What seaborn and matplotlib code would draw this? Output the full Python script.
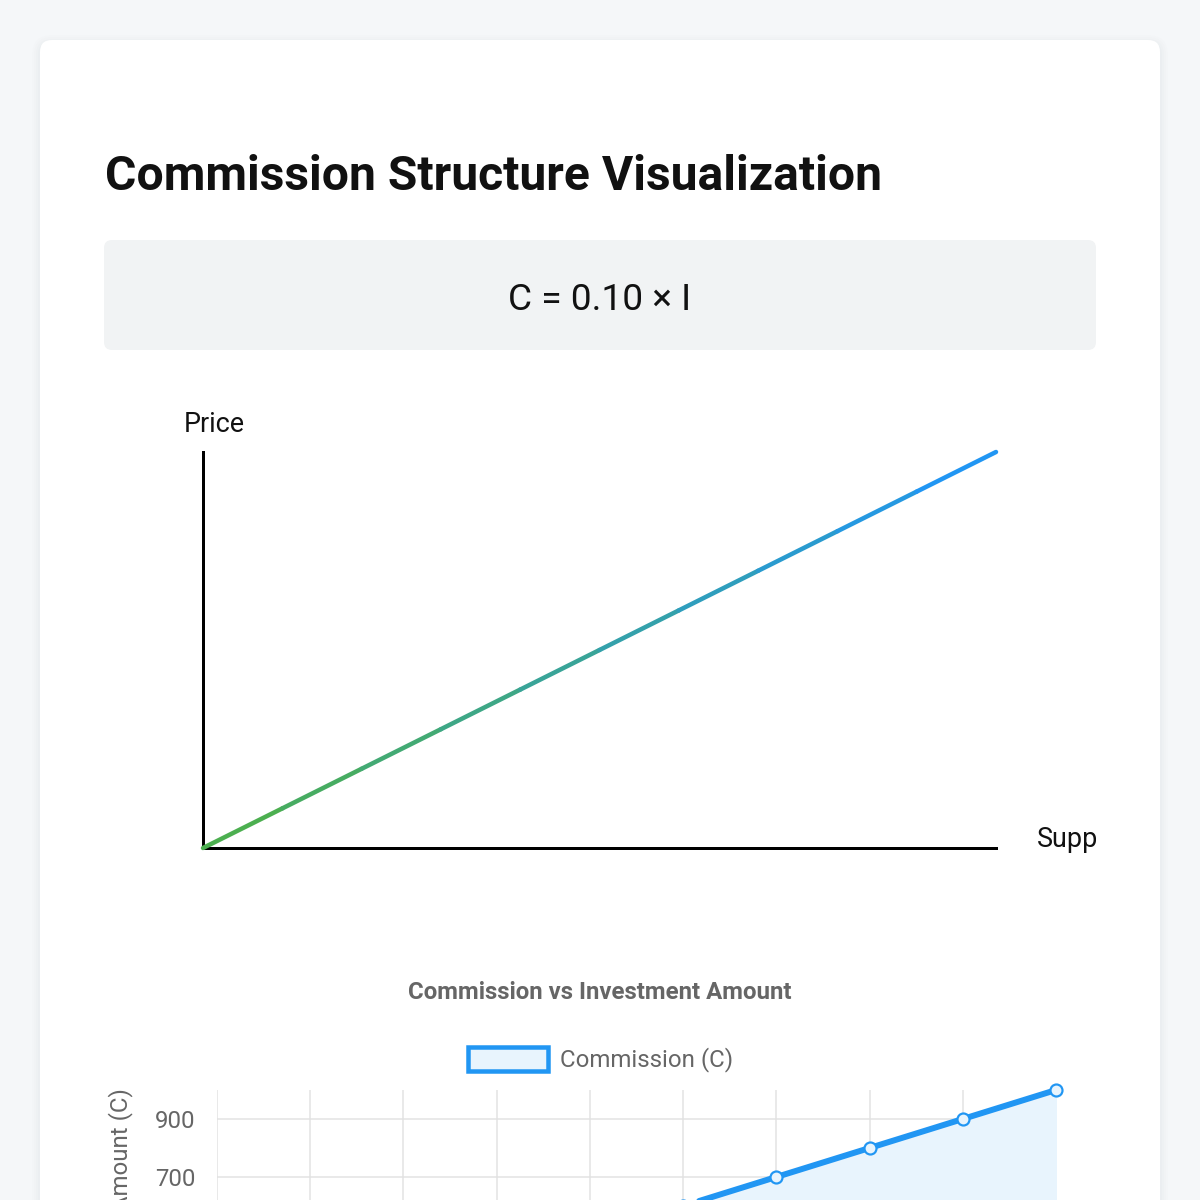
import matplotlib.pyplot as plt
import numpy as np
import pandas as pd
import seaborn as sns
from matplotlib.collections import LineCollection
from matplotlib.colors import LinearSegmentedColormap
from matplotlib.patches import FancyBboxPatch, Rectangle

# commission data: C = 0.10 x I
investment = [1000, 2000, 3000, 4000, 5000, 6000, 7000, 8000, 9000, 10000]
commission = [100, 200, 300, 400, 500, 600, 700, 800, 900, 1000]
y_ticks = [100, 300, 500, 700, 900]

title = "Commission Structure Visualization"
formula = "C = 0.10 \u00d7 I"
chart_title = "Commission vs Investment Amount"
series_name = "Commission (C)"

BLUE = "#2196f3"
GREEN = "#4caf50"
FILL = "#e8f4fd"
GREY_TXT = "#666666"
PX = 0.72  # points per pixel at dpi 100

sns.set_theme(style="white")
plt.rcParams["font.family"] = ["Roboto", "DejaVu Sans"]

fig = plt.figure(figsize=(12, 12), dpi=100)
fig.patch.set_facecolor("#f5f7f9")

# background layer in pixel coordinates (origin top-left)
bg = fig.add_axes([0, 0, 1, 1])
bg.set_xlim(0, 1200)
bg.set_ylim(1200, 0)
bg.axis("off")
bg.set_zorder(-1)

# card shadow + card
for i, a in enumerate([0.012, 0.015, 0.02, 0.025]):
    grow = 8 - i * 2
    bg.add_patch(FancyBboxPatch((40 - grow, 40 - grow + 3), 1120 + 2 * grow, 1300,
                                boxstyle="round,pad=0,rounding_size=%d" % (12 + grow),
                                fc="#8090a0", ec="none", alpha=a))
bg.add_patch(FancyBboxPatch((40, 40), 1120, 1300, boxstyle="round,pad=0,rounding_size=12",
                            fc="white", ec="none"))

bg.text(105, 190, title, fontsize=48 * PX, fontweight="bold", color="#111111",
        ha="left", va="baseline")

# formula box
bg.add_patch(FancyBboxPatch((104, 240), 992, 110, boxstyle="round,pad=0,rounding_size=8",
                            fc="#f1f3f4", ec="none"))
bg.text(600, 310, formula, fontsize=37 * PX, color="#111111", ha="center", va="baseline")

# diagram labels
bg.text(184, 432, "Price", fontsize=27 * PX, color="#111111", ha="left", va="baseline")
supply = bg.text(1037, 847, "Supply", fontsize=27 * PX, color="#111111",
                 ha="left", va="baseline", clip_on=True)
supply.set_clip_path(Rectangle((104, 0), 992, 1200, transform=bg.transData))

# bottom chart title + legend
bg.text(600, 999, chart_title, fontsize=24 * PX, fontweight="bold", color=GREY_TXT,
        ha="center", va="baseline")
bg.add_patch(Rectangle((468, 1047), 80, 24, fc=FILL, ec=BLUE, lw=4.5 * PX))
bg.text(560, 1066, series_name, fontsize=24 * PX, color=GREY_TXT, ha="left", va="baseline")

# ---- supply / price diagram ----
dg = fig.add_axes([203 / 1200, 352 / 1200, 793 / 1200, 396 / 1200])
dg.set_facecolor("none")
dg.set_xlim(0, investment[-1])
dg.set_ylim(0, commission[-1])
dx = [0] + investment
dy = [0] + commission
pts = np.column_stack([dx, dy])
segs = np.stack([pts[:-1], pts[1:]], axis=1)
cmap = LinearSegmentedColormap.from_list("gb", [GREEN, BLUE])
lc = LineCollection(segs, colors=cmap(np.linspace(0, 1, len(segs))), linewidths=4.5 * PX,
                    capstyle="round", clip_on=False, zorder=3)
dg.add_collection(lc)
for s in ["top", "right"]:
    dg.spines[s].set_visible(False)
for s in ["left", "bottom"]:
    dg.spines[s].set_color("black")
    dg.spines[s].set_linewidth(3 * PX)
dg.set_xticks([])
dg.set_yticks([])

# ---- commission vs investment chart ----
df = pd.DataFrame({"Investment": investment, "Commission": commission})
ax = fig.add_axes([217 / 1200, -151 / 1200, 839 / 1200, 261 / 1200])
ax.set_facecolor("none")
ax.fill_between(df["Investment"], df["Commission"], 0, color=FILL, zorder=1)
sns.lineplot(data=df, x="Investment", y="Commission", ax=ax, color=BLUE,
             linewidth=6 * PX, marker="o", markersize=12 * PX, markerfacecolor=FILL,
             markeredgecolor=BLUE, markeredgewidth=2.2 * PX, zorder=3, clip_on=False)
ax.set_xlim(investment[0], investment[-1])
ax.set_ylim(100, 1000)
ax.set_xticks(investment)
ax.set_yticks(y_ticks)
ax.set_xticklabels([])
ax.grid(True, color="#e2e2e2", linewidth=1.5 * PX, zorder=0)
for s in ax.spines.values():
    s.set_visible(False)
ax.tick_params(axis="y", length=0, pad=22 * PX, labelsize=24 * PX, labelcolor=GREY_TXT)
ax.tick_params(axis="x", length=0)
ax.set_xlabel("")
ax.set_ylabel("Commission Amount (C)", fontsize=24 * PX, color=GREY_TXT)
ax.yaxis.set_label_coords(-0.1, 0.5)

fig.savefig("out.png", dpi=100)
plt.close(fig)
